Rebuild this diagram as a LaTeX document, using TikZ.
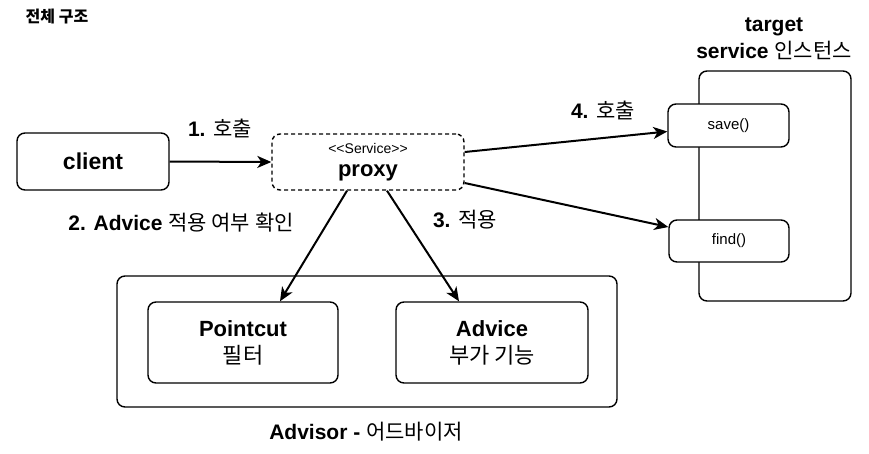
\documentclass[tikz,border=0pt]{standalone}
\usepackage{fontspec}
\setmainfont{Liberation Sans}
\newfontfamily\kr{Noto Sans CJK KR}
\usetikzlibrary{arrows.meta}

\begin{document}
\begin{tikzpicture}[x=100pt, y=100pt,
  box/.style={draw, line width=1.4pt, rounded corners=8pt, inner sep=0pt, align=center},
  lbl/.style={font=\fontsize{21}{27}\selectfont\bfseries},
  call/.style={-{Stealth[length=14pt,width=12pt,inset=4pt]}, line width=2pt}]
\useasboundingbox (0,0) rectangle (8.69,-4.53);
\node[font=\fontsize{16}{18}\selectfont\bfseries] (title) at (0.57,-0.17) {\kr 전체 구조};

\node[box, minimum width=152pt, minimum height=57pt, font=\fontsize{23}{26}\selectfont\bfseries] (client) at (0.93,-1.615) {client};
\node[box, dash pattern=on 4pt off 3pt, minimum width=192pt, minimum height=56pt, font=\fontsize{22}{20}\selectfont] (proxy) at (3.68,-1.62) {{\fontsize{14}{16}\selectfont <{}<Service>{}>}\\[3pt]\bfseries proxy};

% target instance with its two methods
\node[box, minimum width=152pt, minimum height=230pt] (target) at (7.75,-1.86) {};
\node[lbl, align=center] (targetlbl) at (7.74,-0.385) {target\\service {\kr\mdseries 인스턴스}};
\node[box, fill=white, minimum width=121pt, minimum height=43pt, font=\fontsize{15}{16}\selectfont] (save) at (7.285,-1.255) {save()};
\node[box, fill=white, minimum width=120pt, minimum height=42pt, font=\fontsize{15}{16}\selectfont] (find) at (7.29,-2.41) {find()};

% advisor = pointcut + advice
\node[box, minimum width=500pt, minimum height=131pt] (advisor) at (3.67,-3.415) {};
\node[box, minimum width=190pt, minimum height=81pt, font=\fontsize{22}{27}\selectfont] (pointcut) at (2.43,-3.425) {\bfseries Pointcut\\{\kr 필터}};
\node[box, minimum width=192pt, minimum height=81pt, font=\fontsize{22}{27}\selectfont] (advice) at (4.92,-3.425) {\bfseries Advice\\{\kr 부가 기능}};
\node[lbl] (advisorlbl) at (3.66,-4.32) {Advisor - {\kr\mdseries 어드바이저}};

\node[lbl] (l1) at (2.20,-1.28) {1. {\kr\mdseries 호출}};
\node[lbl] (l2) at (1.81,-2.23) {2. Advice {\kr\mdseries 적용 여부 확인}};
\node[lbl] (l3) at (4.65,-2.20) {3. {\kr\mdseries 적용}};
\node[lbl] (l4) at (6.03,-1.10) {4. {\kr\mdseries 호출}};

\draw[call] (client.east) -- (proxy.west);
\draw[call] ([yshift=10pt]proxy.east) -- ([yshift=-6pt]save.west);
\draw[call] ([yshift=-21pt]proxy.east) -- ([yshift=14pt]find.west);
\draw[call] ([xshift=-21pt]proxy.south) -- ([xshift=37pt]pointcut.north);
\draw[call] ([xshift=19pt]proxy.south) -- ([xshift=-33pt]advice.north);
\end{tikzpicture}
\end{document}
